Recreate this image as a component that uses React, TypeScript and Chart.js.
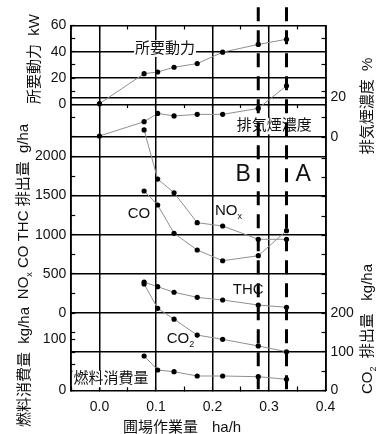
import React, { useEffect, useRef } from 'react';
import { Chart, registerables } from 'chart.js';

Chart.register(...registerables);

const FONT = "'Liberation Sans', Arial, 'Noto Sans CJK JP', sans-serif";

// ---------------- data ----------------
// 圃場作業量 ha/h
const WORK_RATE = [0.0, 0.079, 0.103, 0.132, 0.173, 0.218, 0.281, 0.331];
const POWER_KW = [0.5, 23.3, 24.6, 28.2, 31.0, 39.7, 45.6, 49.5];
const SMOKE_PCT = [0.5, 7.7, 11.9, 10.6, 11.4, 11.4, 14.4, 25.8];
const EMIT_RATE = [0.079, 0.103, 0.132, 0.173, 0.218, 0.281, 0.331];
const NOX_G = [2339, 1712, 1537, 1154, 1112, 942, 942];
const CO_G = [1559, 1380, 1018, 805, 668, 732, 1052];
const THC_G = [395, 336, 265, 200, 166, 102, 73];
const CO2_KG = [275, 212, 184, 143, 132, 115, 100];
const FUEL_KG = [67.4, 40.0, 36.7, 28.3, 28.3, 27.0, 21.9];
const BOUNDARY_X = [0.281, 0.331];

// ---------------- ticks ----------------
const X_TICKS = [-0.05, 0, 0.05, 0.1, 0.15, 0.2, 0.25, 0.3, 0.35, 0.4];
const X_LABELS = [0, 0.1, 0.2, 0.3, 0.4];
const X_GRID = [0, 0.1, 0.2, 0.3];
const KW_TICKS = [0, 10, 20, 30, 40, 50, 60];
const KW_LABELS = [0, 20, 40, 60];
const KW_GRID = [0, 20, 40];
const KW_MIRROR_TICKS = [10, 30, 50];
const GHA_TICKS = [-750, -500, -250, 0, 250, 500, 750, 1000, 1250, 1500, 1750, 2000, 2250, 2500];
const GHA_LABELS = [0, 500, 1000, 1500, 2000];
const GHA_GRID = [0, 500, 1000, 1500, 2000];
const FUEL_TICKS = [0, 50, 100];
const FUEL_LABELS = [0, 100];
const SMOKE_TICKS = [0, 10, 20];
const SMOKE_LABELS = [0, 20];
const SMOKE_GRID = [0, 20];
const CO2_TICKS = [0, 50, 100, 150, 200, 250, 300, 350, 400, 450, 500, 550, 600];
const CO2_LABELS = [0, 100, 200];
const CO2_GRID = [100];

// ---------------- layout ----------------
const W = 377;
const H = 434;
const AREA = { left: 71.2, right: 325.5, top: 25.5, bottom: 390.5 };
function span(v1: number, p1: number, v2: number, p2: number) {
  const k = (p2 - p1) / (v2 - v1);
  return { min: v1 + (AREA.bottom - p1) / k, max: v1 + (AREA.top - p1) / k };
}
const KW_RANGE = span(0, 104.3, 60, 25.5);
const SMOKE_RANGE = span(0, 137, 20, 97.3);
const GHA_RANGE = span(0, 313, 2000, 156.5);
const CO2_RANGE = span(0, 390.5, 200, 313);
const FUEL_RANGE = span(0, 390.5, 100, 339.3);
const X_RANGE = { min: -0.05, max: 0.4 };

const TICK_FONT = { family: FONT, size: 14 };
const INK = '#111';
const LINE_W = 1.5;
const near = (arr: number[], v: number) => arr.some((a) => Math.abs(a - v) < 1e-9);
const fixTicks = (vals: number[]) => (s: any) => {
  s.ticks = vals.map((v) => ({ value: v }));
};

// axis that carries labels + inward tick marks (no lines across the plot)
function tickAxis(axis: 'x' | 'y', position: any, range: any, ticks: number[], labels: number[], fmt: (v: number) => string, tickLength = -4, showBorder = true) {
  return {
    type: 'linear',
    axis,
    position,
    min: range.min,
    max: range.max,
    afterFit: (s: any) => {
      if (axis === 'y') s.width = 0;
      else s.height = 0;
    },
    afterBuildTicks: fixTicks(ticks),
    ticks: {
      display: labels.length > 0,
      autoSkip: false,
      maxRotation: 0,
      padding: axis === 'y' ? 9 : 12,
      color: INK,
      font: TICK_FONT,
      callback: (v: number) => (near(labels, v) ? fmt(v) : ''),
    },
    grid: {
      display: true,
      drawOnChartArea: false,
      drawTicks: true,
      tickLength,
      color: '#000',
      tickColor: '#000',
      tickWidth: 1.2,
    },
    border: { display: showBorder, color: '#000', width: LINE_W },
  };
}

// axis that draws the lines across the plot (also used to map the data)
function gridAxis(axis: 'x' | 'y', position: string, range: any, grid: number[]) {
  return {
    type: 'linear',
    axis,
    position,
    min: range.min,
    max: range.max,
    afterFit: (s: any) => {
      if (axis === 'y') s.width = 0;
      else s.height = 0;
    },
    afterBuildTicks: fixTicks(grid),
    ticks: { display: false },
    grid: {
      display: true,
      drawOnChartArea: true,
      drawTicks: false,
      color: '#000',
      lineWidth: LINE_W,
    },
    border: { display: false },
  };
}

function series(xs: number[], ys: number[], yAxisID: string) {
  return {
    data: xs.map((x, i) => ({ x, y: ys[i] })),
    xAxisID: 'x',
    yAxisID,
    borderColor: '#8f8f8f',
    borderWidth: 1,
    pointRadius: 2.6,
    pointHoverRadius: 2.6,
    pointBackgroundColor: '#000',
    pointBorderWidth: 0,
    tension: 0,
    fill: false,
    order: 0,
  };
}

function boundary(x: number) {
  return {
    data: [
      { x, y: 1.05 },
      { x, y: 0 },
    ],
    xAxisID: 'x',
    yAxisID: 'yFrac',
    borderColor: '#000',
    borderWidth: 3,
    borderDash: [14, 9],
    pointRadius: 0,
    pointHoverRadius: 0,
    clip: false,
    order: 1,
  };
}

// ---------------- text ----------------
type Seg = { t: string; sub?: boolean };
function drawRich(
  ctx: CanvasRenderingContext2D,
  segs: Seg[],
  x: number,
  y: number,
  size: number,
  align: 'left' | 'center' | 'right',
  rot = 0,
  bg = false
) {
  ctx.save();
  ctx.translate(x, y);
  ctx.rotate(rot);
  const subSize = Math.round(size * 0.62);
  const widths = segs.map((s) => {
    ctx.font = `${s.sub ? subSize : size}px ${FONT}`;
    return ctx.measureText(s.t).width;
  });
  const total = widths.reduce((a, b) => a + b, 0);
  let cx = align === 'left' ? 0 : align === 'center' ? -total / 2 : -total;
  if (bg) {
    ctx.fillStyle = '#fff';
    ctx.fillRect(cx - 1, -size * 0.55, total + 2, size * 1.1);
  }
  ctx.fillStyle = INK;
  ctx.textBaseline = 'middle';
  ctx.textAlign = 'left';
  segs.forEach((s, i) => {
    ctx.font = `${s.sub ? subSize : size}px ${FONT}`;
    ctx.fillText(s.t, cx, s.sub ? size * 0.38 : 0);
    cx += widths[i];
  });
  ctx.restore();
}

type Note = { segs: Seg[]; x: number; axis: string; y: number; size: number; align: 'left' | 'center'; bg?: boolean };
const NOTES: Note[] = [
  { segs: [{ t: '所要動力' }], x: 0.063, axis: 'yKW', y: 42.4, size: 15, align: 'left', bg: true },
  { segs: [{ t: '排気煙濃度' }], x: 0.243, axis: 'ySmoke', y: 5.5, size: 15, align: 'left', bg: true },
  { segs: [{ t: 'B' }], x: 0.2545, axis: 'yGha', y: 1764, size: 23, align: 'center' },
  { segs: [{ t: 'A' }], x: 0.3607, axis: 'yGha', y: 1764, size: 23, align: 'center' },
  { segs: [{ t: 'CO' }], x: 0.05, axis: 'yGha', y: 1265, size: 15, align: 'left' },
  { segs: [{ t: 'NO' }, { t: 'x', sub: true }], x: 0.2044, axis: 'yGha', y: 1303, size: 15, align: 'left' },
  { segs: [{ t: 'THC' }], x: 0.236, axis: 'yGha', y: 294, size: 15, align: 'left' },
  { segs: [{ t: 'CO' }, { t: '2', sub: true }], x: 0.119, axis: 'yCO2', y: 133, size: 15, align: 'left' },
  { segs: [{ t: '燃料消費量' }], x: -0.046, axis: 'yFuel', y: 22.5, size: 15, align: 'left', bg: true },
];

const textPlugin = {
  id: 'notes',
  afterLayout(chart: any) {
    // widen the (zero-width) axis boxes so that their tick labels are not clipped
    Object.values(chart.scales).forEach((s: any) => {
      if (s.options.display === false) return;
      const pos = s.options.position;
      if (pos === 'left') {
        s.left = 0;
        s.width = s.right;
      } else if (pos === 'right') {
        s.right = chart.width;
        s.width = s.right - s.left;
      } else if (pos === 'bottom') {
        s.bottom = chart.height;
        s.height = s.bottom - s.top;
      }
    });
  },
  beforeDatasetsDraw(chart: any) {
    const ctx = chart.ctx as CanvasRenderingContext2D;
    const xs = chart.scales.x;
    NOTES.forEach((n) => {
      const px = xs.getPixelForValue(n.x);
      const py = chart.scales[n.axis].getPixelForValue(n.y);
      drawRich(ctx, n.segs, px, py, n.size, n.align, 0, !!n.bg);
    });
  },
  afterDraw(chart: any) {
    const ctx = chart.ctx as CanvasRenderingContext2D;
    const up = -Math.PI / 2;
    drawRich(ctx, [{ t: '所要動力  kW' }], 35, 59, 15, 'center', up);
    drawRich(ctx, [{ t: 'NO' }, { t: 'x', sub: true }, { t: ' CO THC 排出量  g/ha' }], 23.5, 211.5, 15, 'center', up);
    drawRich(ctx, [{ t: '燃料消費量  kg/ha' }], 25, 307, 15, 'right', up);
    drawRich(ctx, [{ t: '排気煙濃度  %' }], 368, 106, 15, 'center', up);
    drawRich(ctx, [{ t: 'CO' }, { t: '2', sub: true }, { t: '  排出量   kg/ha' }], 368, 329, 15, 'center', up);
    drawRich(ctx, [{ t: '圃場作業量' }], 123, 428, 15, 'left');
    drawRich(ctx, [{ t: 'ha/h' }], 212, 428, 15, 'left');
  },
};

const num = (v: number) => String(v);
const dec1 = (v: number) => v.toFixed(1);

export default function App() {
  const ref = useRef<HTMLCanvasElement>(null);
  useEffect(() => {
    if (!ref.current) return;
    Chart.defaults.font.family = FONT;
    const chart = new Chart(ref.current, {
      type: 'line',
      data: {
        datasets: [
          series(WORK_RATE, POWER_KW, 'yKW'),
          series(WORK_RATE, SMOKE_PCT, 'ySmoke'),
          series(EMIT_RATE, NOX_G, 'yGha'),
          series(EMIT_RATE, CO_G, 'yGha'),
          series(EMIT_RATE, THC_G, 'yGha'),
          series(EMIT_RATE, CO2_KG, 'yCO2'),
          series(EMIT_RATE, FUEL_KG, 'yFuel'),
          ...BOUNDARY_X.map(boundary),
        ] as any,
      },
      options: {
        responsive: false,
        animation: false,
        devicePixelRatio: 1,
        layout: {
          padding: {
            left: AREA.left,
            right: W - AREA.right,
            top: AREA.top,
            bottom: H - AREA.bottom,
          },
        },
        plugins: { legend: { display: false }, tooltip: { enabled: false } },
        scales: {
          // x: data + vertical grid lines
          x: gridAxis('x', 'bottom', X_RANGE, X_GRID),
          xB: tickAxis('x', 'bottom', X_RANGE, X_TICKS, X_LABELS, dec1),
          xTop: tickAxis('x', 'top', X_RANGE, X_TICKS, [], dec1),
          xMid: tickAxis('x', { yKW: 0 }, X_RANGE, X_TICKS.slice(1), [], dec1, 4, false),
          // left side
          yKW: gridAxis('y', 'left', KW_RANGE, KW_GRID),
          yKWt: tickAxis('y', 'left', KW_RANGE, KW_TICKS, KW_LABELS, num),
          yGha: gridAxis('y', 'left', GHA_RANGE, GHA_GRID),
          yGhaT: tickAxis('y', 'left', GHA_RANGE, GHA_TICKS, GHA_LABELS, num),
          yFuel: gridAxis('y', 'left', FUEL_RANGE, []),
          yFuelT: tickAxis('y', 'left', FUEL_RANGE, FUEL_TICKS, FUEL_LABELS, num),
          // right side
          ySmoke: gridAxis('y', 'right', SMOKE_RANGE, SMOKE_GRID),
          ySmokeT: tickAxis('y', 'right', SMOKE_RANGE, SMOKE_TICKS, SMOKE_LABELS, num),
          yCO2: gridAxis('y', 'right', CO2_RANGE, CO2_GRID),
          yCO2T: tickAxis('y', 'right', CO2_RANGE, CO2_TICKS, CO2_LABELS, num),
          yKWr: tickAxis('y', 'right', KW_RANGE, KW_MIRROR_TICKS, [], num),
          yFrac: { type: 'linear', axis: 'y', display: false, min: 0, max: 1 },
        } as any,
      },
      plugins: [textPlugin],
    });
    return () => chart.destroy();
  }, []);
  return (
    <canvas
      ref={ref}
      width={W}
      height={H}
      style={{ position: 'fixed', left: 0, top: 0, display: 'block', width: W, height: H }}
    />
  );
}
